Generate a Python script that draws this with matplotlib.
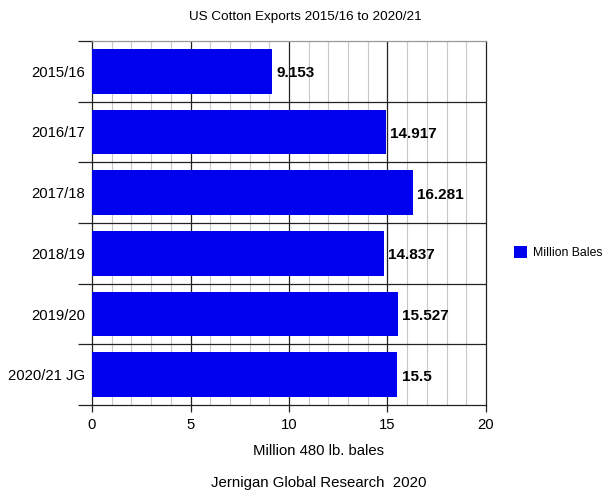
import matplotlib
matplotlib.use("Agg")
import matplotlib.pyplot as plt
from matplotlib.patches import Patch

plt.rcParams['font.family'] = ['Liberation Sans', 'DejaVu Sans']

seasons = ["2015/16", "2016/17", "2017/18", "2018/19", "2019/20", "2020/21 JG"]
exports = [9.153, 14.917, 16.281, 14.837, 15.527, 15.5]
value_labels = ["9.153", "14.917", "16.281", "14.837", "15.527", "15.5"]
x_ticks = [0, 5, 10, 15, 20]

bar_color = "#0000EE"

fig = plt.figure(figsize=(6.11, 4.95), dpi=100)
ax = fig.add_axes([0.1506, 0.1818, 0.6448, 0.7354])

n = len(seasons)
ypos = list(range(n))
ax.barh(ypos, exports, height=0.74, color=bar_color, zorder=3)

ax.set_xlim(0, 20)
ax.set_ylim(n - 0.5, -0.5)

# grid: light lines every unit, dark every 5
for v in range(1, 20):
    if v % 5 == 0:
        continue
    ax.axvline(v, color="#c8c8c8", lw=0.8, zorder=1)
for v in (5, 10, 15):
    ax.axvline(v, color="#222222", lw=0.9, zorder=1)

# category separators
for b in range(1, n):
    ax.axhline(b - 0.5, color="#222222", lw=0.9, zorder=2)

ax.set_yticks([i - 0.5 for i in range(n + 1)], minor=False)
ax.set_yticklabels([])
ax.set_yticks(ypos, minor=True)
ax.set_yticklabels(seasons, minor=True, fontsize=10.7)
ax.tick_params(axis="y", which="minor", length=0, pad=5)
ax.tick_params(axis="y", which="major", length=10, width=0.9, color="#222222")

ax.set_xticks(x_ticks)
ax.set_xticklabels([str(t) for t in x_ticks], fontsize=10.7)
ax.tick_params(axis="x", length=5, width=0.9, color="#222222", pad=4)

for side in ("left", "right", "bottom"):
    ax.spines[side].set_color("#222222")
    ax.spines[side].set_linewidth(0.9)
ax.spines["top"].set_color("#999999")
ax.spines["top"].set_linewidth(0.9)

for y, v, lab in zip(ypos, exports, value_labels):
    ax.annotate(lab, (v, y), xytext=(3, -1.5), textcoords="offset points",
                ha="left", va="center", fontsize=11, fontweight="bold", zorder=4)

fig.text(0.522, 0.089, "Million 480 lb. bales", ha="center", va="center",
         fontsize=10.7)
fig.text(0.5, 0.965, "US Cotton Exports 2015/16 to 2020/21", ha="center",
         va="center", fontsize=9.7)
fig.text(0.522, 0.024, "Jernigan Global Research  2020", ha="center",
         va="center", fontsize=10.8)

fig.legend(handles=[Patch(facecolor=bar_color, label="Million Bales")],
           loc="center left", bbox_to_anchor=(0.823, 0.49), frameon=False,
           fontsize=8.8, handlelength=1.1, handleheight=1.1, handletextpad=0.45)

fig.savefig("out.png", dpi=100)
